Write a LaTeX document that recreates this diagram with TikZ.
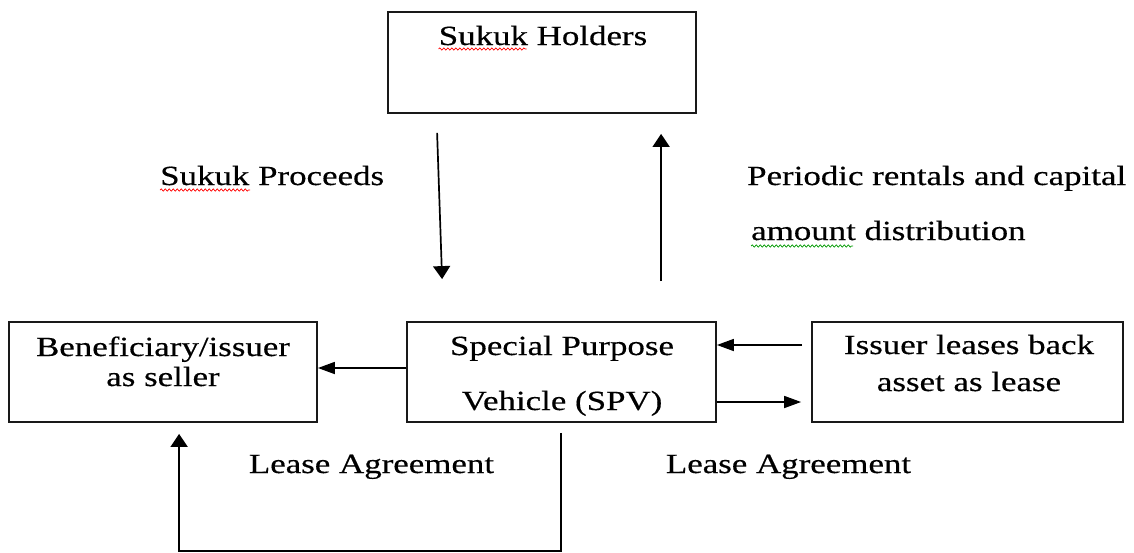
\documentclass[tikz,border=0pt]{standalone}
\usepackage{fontspec}
\setmainfont{Liberation Serif}[FakeStretch=1.26,FakeBold=0.4]
\usetikzlibrary{arrows.meta,calc,decorations.pathmorphing}
\begin{document}
\begin{tikzpicture}[x=1pt,y=-1pt,
  box/.style={draw=black!90,line width=1.8pt,minimum height=100pt,inner sep=0pt},
  txt/.style={inner sep=0pt,font=\fontsize{27.7}{33}\selectfont},
  varrow/.style={line width=1.7pt,-{Triangle[length=13pt,width=17pt]}},
  harrow/.style={line width=1.7pt,-{Triangle[length=17pt,width=12pt]}},
  squig/.style={line width=0.7pt,decorate,decoration={snake,amplitude=1.1pt,segment length=4pt}}]
\useasboundingbox (0,0) rectangle (1134,552);
% boxes
\node[box,minimum width=308pt,minimum height=101pt] (holders) at (542,62.5) {};
\node[box,minimum width=308pt] (benef) at (163,372) {};
\node[box,minimum width=309pt] (spv) at (561.5,372) {};
\node[box,minimum width=311pt] (issuer) at (967.5,372) {};
% texts
\node[txt,anchor=base] (tholders) at (543,45) {Sukuk Holders};
\node[txt,anchor=base west] (tproceeds) at (160,185) {Sukuk Proceeds};
\node[txt,anchor=base west] (tperiodic1) at (747,185) {Periodic rentals and capital};
\node[txt,anchor=base west] (tperiodic2) at (751,240) {amount distribution};
\node[txt,anchor=base] (tbenef1) at (163,356) {Beneficiary/issuer};
\node[txt,anchor=base] (tbenef2) at (163,386) {as seller};
\node[txt,anchor=base] (tspv1) at (562,355) {Special Purpose};
\node[txt,anchor=base] (tspv2) at (562,410) {Vehicle (SPV)};
\node[txt,anchor=base] (tissuer1) at (969,354) {Issuer leases back};
\node[txt,anchor=base] (tissuer2) at (969,391) {asset as lease};
\node[txt,anchor=base] (tlease1) at (371.5,473) {Lease Agreement};
\node[txt,anchor=base] (tlease2) at (788.5,473) {Lease Agreement};
% spell-check underlines
\draw[squig,red] ($(tholders.base west)+(0,4)$) -- ++(88,0);
\draw[squig,red] ($(tproceeds.base west)+(0,5)$) -- ++(90,0);
\draw[squig,green!60!black] ($(tperiodic2.base west)+(0,6)$) -- ++(102,0);
% connectors
\draw[varrow] ($(holders.south west)+(50,19)$) -- ($(spv.north west)+(36,-42)$);
\draw[varrow] ($(spv.north west)+(255,-40)$) -- ($(holders.south west)+(274,20)$);
\draw[harrow] ($(spv.west)+(0,-4)$) -- ($(benef.east)+(0,-4)$);
\draw[harrow] ($(issuer.west)+(-9,-27)$) -- ($(spv.east)+(0,-27)$);
\draw[harrow] ($(spv.east)+(0,30)$) -- ($(issuer.west)+(-10,30)$);
\draw[varrow] ($(spv.south west)+(155,10)$) -- ++(0,118) -| ($(benef.south west)+(171,11)$);
\end{tikzpicture}
\end{document}
